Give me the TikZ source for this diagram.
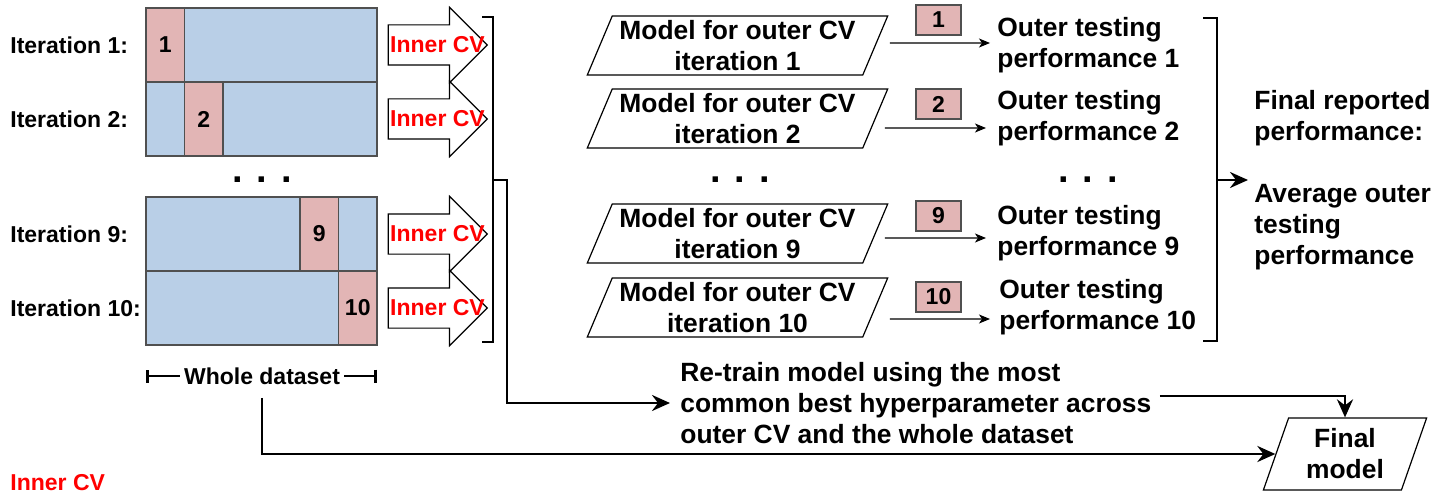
\documentclass[tikz,border=0pt]{standalone}
\usepackage{fontspec}
\setmainfont{Liberation Sans}
\usepackage{xcolor}
\usetikzlibrary{shapes,arrows.meta,positioning}
\usetikzlibrary{calc}
\definecolor{foldred}{RGB}{226,181,181}
\definecolor{restblue}{RGB}{185,207,231}
\definecolor{edgegray}{RGB}{80,80,80}

\begin{document}
\begin{tikzpicture}
  [
    x=0.5pt, y=-0.5pt,
    Big/.style={font=\fontsize{13.2}{15.5}\selectfont\bfseries},
    Small/.style={font=\fontsize{11.5}{14}\selectfont\bfseries},
    Rest/.style={rectangle, draw=edgegray, fill=restblue, line width=0.6pt, minimum width=115.5pt, minimum height=37pt, inner sep=0pt},
    Fold/.style={rectangle, draw=edgegray, fill=foldred, line width=0.6pt, minimum width=19.25pt, minimum height=37pt, inner sep=0pt, Small},
    Tag/.style={rectangle, draw=edgegray, fill=foldred, line width=0.6pt, minimum width=22.5pt, minimum height=15pt, inner sep=0pt, Small},
    Inner/.style={single arrow, draw=black, fill=white, line width=0.6pt, single arrow head extend=8.75pt, inner ysep=9.75pt, inner xsep=0pt, minimum height=49.5pt, anchor=tip},
    Model/.style={trapezium, trapezium left angle=65, trapezium right angle=115, trapezium stretches=true, draw=black, line width=0.6pt, minimum width=150.5pt, minimum height=29.5pt, align=center, Big, inner sep=0pt},
    Text/.style={align=left, Big, inner sep=0pt, anchor=west},
    Red/.style={text=red, Small, inner sep=0pt},
    Dots/.style={font=\fontsize{19}{20}\selectfont\bfseries, inner sep=0pt},
    Conn/.style={line width=1.4pt, draw=black},
    Head/.style={-{Stealth[length=9pt, width=8pt, inset=3pt]}},
    Thin/.style={line width=0.6pt, -{Stealth[length=5.5pt, width=4.5pt, inset=1.5pt]}}
  ]
  \useasboundingbox (0,0) rectangle (1451,492);

  % Nodes
  \node[Rest] (r1) at (261.5,45) {};
  \node[Fold] (f1) at (165.25,45) {1};
  \node[Rest] (r2) at (261.5,119) {};
  \node[Fold] (f2) at (203.75,119) {2};
  \node[Rest] (r9) at (261.5,234) {};
  \node[Fold] (f9) at (319.25,234) {9};
  \node[Rest] (r10) at (261.5,308) {};
  \node[Fold] (f10) at (357.75,308) {10};

  \node[Small, anchor=west, inner sep=0pt] (l1) at (10,45) {Iteration 1:};
  \node[Small, anchor=west, inner sep=0pt] (l2) at (10,119) {Iteration 2:};
  \node[Small, anchor=west, inner sep=0pt] (l9) at (10,234) {Iteration 9:};
  \node[Small, anchor=west, inner sep=0pt] (l10) at (10,308) {Iteration 10:};

  \node[Dots] (d1) at (262,180) {. . .};
  \node[Dots] (d2) at (740,180) {. . .};
  \node[Dots] (d3) at (1088,180) {. . .};

  \node[Inner] (a1) at (488,45) {};
  \node[Red] (cv1) at (437.5,45) {Inner CV};
  \node[Inner] (a2) at (488,119) {};
  \node[Red] (cv2) at (437.5,119) {Inner CV};
  \node[Inner] (a9) at (488,234) {};
  \node[Red] (cv9) at (437.5,234) {Inner CV};
  \node[Inner] (a10) at (488,308) {};
  \node[Red] (cv10) at (437.5,308) {Inner CV};

  \node[Model] (m1) at (737.5,45.5) {Model for outer CV\\iteration 1};
  \node[Model] (m2) at (737.5,118.5) {Model for outer CV\\iteration 2};
  \node[Model] (m9) at (737.5,233.5) {Model for outer CV\\iteration 9};
  \node[Model] (m10) at (737.5,307.5) {Model for outer CV\\iteration 10};

  \node[Tag] (t1) at (938.5,20) {1};
  \node[Tag] (t2) at (938.5,104) {2};
  \node[Tag] (t9) at (938.5,216) {9};
  \node[Tag] (t10) at (938.5,297) {10};

  \node[Text] (o1) at (997,45.5) {Outer testing\\performance 1};
  \node[Text] (o2) at (997,118.5) {Outer testing\\performance 2};
  \node[Text] (o9) at (997,233.5) {Outer testing\\performance 9};
  \node[Text] (o10) at (999,307.5) {Outer testing\\performance 10};

  \node[Text] (fr) at (1254,180) {Final reported\\performance:\\[15.5pt]Average outer\\testing\\performance};

  \node[Text] (rt) at (680,403) {Re-train model using the most\\common best hyperparameter across\\outer CV and the whole dataset};

  \node[Model, trapezium left angle=71, trapezium right angle=109, minimum width=82pt, minimum height=36pt] (fm) at (1345,454) {Final\\model};

  \node[Small, fill=white, inner sep=2pt] (wd) at (262,376) {Whole dataset};
  \coordinate (wl) at (146,376);
  \coordinate (wr) at (377,376);

  \node[Red, anchor=base west] (key) at (10,490) {Inner CV};

  % Brackets
  \draw[Conn] (482,17) -- (493,17) -- (493,342) -- (482,342);
  \draw[Conn] (1203,18) -- (1217,18) -- (1217,341) -- (1203,341);
  \coordinate (b1) at (493,180);
  \coordinate (b2) at (1217,180);

  % Connectors
  \draw[Conn, {Bar[width=6.5pt]}-] (wl) -- (wd);
  \draw[Conn, -{Bar[width=6.5pt]}] (wd) -- (wr);
  \draw[Conn, Head] ([yshift=-4.5pt]wd.south) |- (fm);
  \draw[Conn, Head, shorten >=5pt] (b1) -- (507,180) |- (rt.west);
  \draw[Conn, Head, shorten >=3pt] (b2) -- (fr.west);
  \draw[Conn, Head] ([xshift=4pt,yshift=3.5pt]rt.east) -| (fm);

  \draw[Thin] ([xshift=7pt,yshift=1.25pt]m1.east) -- ([xshift=-3.5pt,yshift=1.25pt]o1.west);
  \draw[Thin] ([xshift=4.5pt,yshift=-4.75pt]m2.east) -- ([xshift=-5.5pt,yshift=-4.75pt]o2.west);
  \draw[Thin] ([xshift=4.5pt,yshift=-2.25pt]m9.east) -- ([xshift=-5.5pt,yshift=-2.25pt]o9.west);
  \draw[Thin] ([xshift=7pt,yshift=-5.75pt]m10.east) -- ([xshift=-4.5pt,yshift=-5.75pt]o10.west);
\end{tikzpicture}
\end{document}
